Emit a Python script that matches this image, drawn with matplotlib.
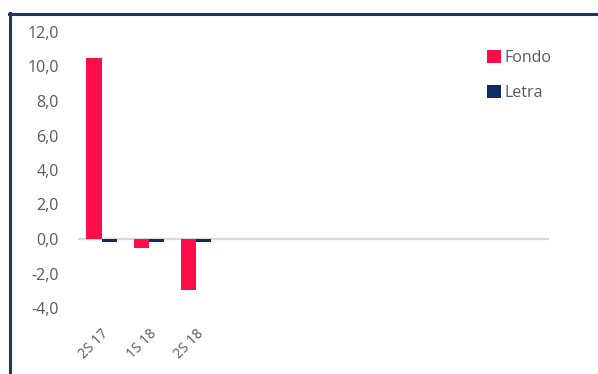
import numpy as np
import matplotlib
matplotlib.use("Agg")
import matplotlib.pyplot as plt
from matplotlib.lines import Line2D

# Chart data
periods = ["2S 17", "1S 18", "2S 18", "", "", "", "", "", "", ""]
fondo = [10.5, -0.5, -2.95, np.nan, np.nan, np.nan, np.nan, np.nan, np.nan, np.nan]
letra = [-0.2, -0.2, -0.15, np.nan, np.nan, np.nan, np.nan, np.nan, np.nan, np.nan]
yticks = [-4, -2, 0, 2, 4, 6, 8, 10, 12]

fondo_colour = "#FF0D4A"
letra_colour = "#0D2B66"
text_colour = "#595959"
frame_colour = "#1F3864"

plt.rcParams["font.family"] = ["Open Sans", "DejaVu Sans"]

W, H = 598, 374
fig = plt.figure(figsize=(W / 100, H / 100), dpi=100)
fig.patch.set_facecolor("white")

# Outer frame (left and top only)
fig.add_artist(Line2D([10 / W, 10 / W], [0, 1 - 13 / H], color=frame_colour, lw=2.2))
fig.add_artist(Line2D([9 / W, 1], [1 - 14 / H, 1 - 14 / H], color=frame_colour, lw=2.2))

ax = fig.add_axes([78 / W, 1 - 308 / H, (549 - 78) / W, (308 - 32) / H])
x = np.arange(len(periods))
bw = 0.32
ax.bar(x - bw / 2, fondo, bw, color=fondo_colour, label="Fondo")
ax.bar(x + bw / 2, letra, bw, color=letra_colour, label="Letra")

ax.axhline(0, color="#D9D9D9", lw=1.6, zorder=0)
ax.set_xlim(-0.5, len(periods) - 0.5)
ax.set_ylim(-4, 12)
ax.set_yticks(yticks)
ax.set_yticklabels([("%.1f" % v).replace(".", ",") for v in yticks],
                   color=text_colour, fontsize=11.5)
ax.set_xticks(x)
ax.set_xticklabels(periods, rotation=45, ha="right", va="top",
                   rotation_mode="anchor", color=text_colour, fontsize=10)
ax.tick_params(axis="both", length=0)
ax.tick_params(axis="y", pad=14)
ax.tick_params(axis="x", pad=13)
for s in ax.spines.values():
    s.set_visible(False)

leg = ax.legend(loc="upper left", bbox_to_anchor=(481 / W, 1 - 44 / H),
                bbox_transform=fig.transFigure, frameon=False,
                handlelength=0.85, handleheight=0.85, handletextpad=0.25,
                labelspacing=1.15, fontsize=11.5, borderaxespad=0)
for t in leg.get_texts():
    t.set_color(text_colour)

fig.savefig("out.png", dpi=100)
